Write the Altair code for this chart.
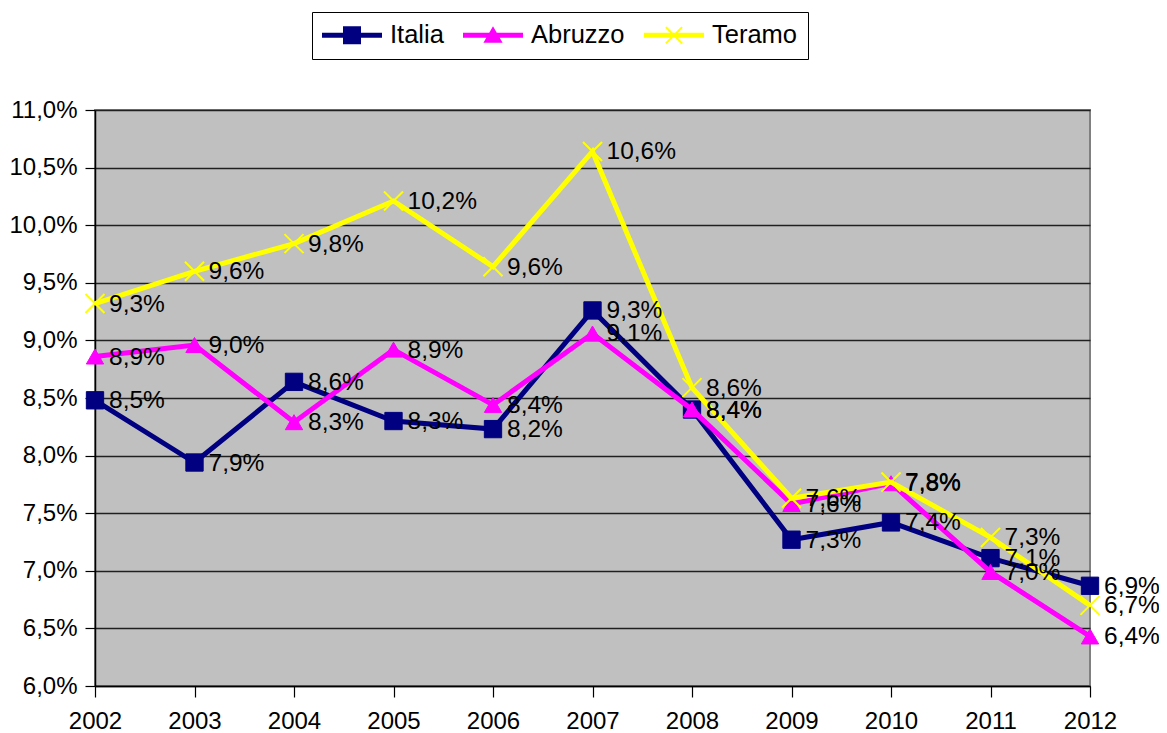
import altair as alt
import pandas as pd

years = [2002, 2003, 2004, 2005, 2006, 2007, 2008, 2009, 2010, 2011, 2012]
italia = [8.48, 7.94, 8.64, 8.30, 8.23, 9.26, 8.40, 7.27, 7.42, 7.11, 6.87]
abruzzo = [8.86, 8.96, 8.29, 8.92, 8.44, 9.06, 8.40, 7.58, 7.76, 6.99, 6.43]
teramo = [9.32, 9.60, 9.84, 10.21, 9.64, 10.64, 8.59, 7.63, 7.77, 7.29, 6.70]

series_names = ["Italia", "Abruzzo", "Teramo"]
series_colors = ["#000080", "#FF00FF", "#FFFF00"]
y_ticks = [6.0, 6.5, 7.0, 7.5, 8.0, 8.5, 9.0, 9.5, 10.0, 10.5, 11.0]

marker_shapes = ["square", "triangle-up", "M-1.1,-1.1L1.1,1.1M-1.1,1.1L1.1,-1.1"]
legend_shapes = [
    "M-1,-0.083H1V0.083H-1Z M-0.3,-0.3H0.3V0.3H-0.3Z",
    "M-1,-0.083H1V0.083H-1Z M0,-0.3L0.32,0.25L-0.32,0.25Z",
    "M-1,-0.083H1V0.083H-1Z "
    "M-0.246,-0.294L0.294,0.246L0.246,0.294L-0.294,-0.246Z "
    "M-0.294,0.246L0.246,-0.294L0.294,-0.246L-0.246,0.294Z",
]

rows = []
for name, vals in zip(series_names, [italia, abruzzo, teramo]):
    for yr, v in zip(years, vals):
        rows.append({"anno": yr, "serie": name, "valore": v})
df = pd.DataFrame(rows)

FONT = "Liberation Sans"

x_enc = alt.X(
    "anno:Q",
    scale=alt.Scale(domain=[2002, 2012], nice=False, zero=False),
    axis=alt.Axis(
        values=years, format="d", title=None, grid=False,
        labelFont=FONT, labelFontSize=24, labelColor="#000",
        tickColor="#000", tickSize=11, tickWidth=1.2,
        domainColor="#000", domainWidth=1.5, labelPadding=12,
        labelFlush=False, labelOverlap=False,
    ),
)
y_enc = alt.Y(
    "valore:Q",
    scale=alt.Scale(domain=[6, 11], nice=False, zero=False),
    axis=alt.Axis(
        values=y_ticks, title=None, grid=True, gridColor="#202020",
        gridWidth=1.3, labelFont=FONT, labelFontSize=24, labelColor="#000",
        labelExpr="replace(format(datum.value, '.1f'), '.', ',') + '%'",
        tickColor="#000", tickSize=10, tickWidth=1.2,
        domainColor="#000", domainWidth=1.5, labelPadding=8,
        labelFlush=False, labelOverlap=False,
    ),
)

base = alt.Chart(df)
layers = []
for name, col, shp in zip(series_names, series_colors, marker_shapes):
    sub = base.transform_filter(alt.datum.serie == name)
    layers.append(
        sub.mark_line(strokeWidth=5, color=col).encode(x=x_enc, y=y_enc)
    )
    layers.append(
        sub.mark_point(
            shape=shp, filled=True, fill=col, stroke=col,
            strokeWidth=2 if name == "Teramo" else 1,
            size=300, opacity=1,
        ).encode(x=x_enc, y=y_enc)
    )

labels = base.transform_calculate(
    lab="replace(format(datum.valore, '.1f'), '.', ',') + '%'"
).mark_text(
    align="left", baseline="middle", dx=14, dy=1,
    font=FONT, fontSize=24.5, color="#000",
).encode(x=x_enc, y=y_enc, text="lab:N")
layers.append(labels)

legend_def = alt.Legend(
    title=None, orient="none", legendX=217, legendY=-98,
    direction="horizontal", columns=3, symbolSize=3600,
    symbolStrokeWidth=0, symbolOpacity=1, clipHeight=26,
    labelFont=FONT, labelFontSize=25.5, labelColor="#000",
    labelOffset=8, columnPadding=19, padding=10,
    fillColor="#FFFFFF", strokeColor="#000000",
)
legend_layer = base.transform_filter("false").mark_point(filled=True).encode(
    x=x_enc, y=y_enc,
    color=alt.Color("serie:N", scale=alt.Scale(domain=series_names, range=series_colors), legend=legend_def),
    shape=alt.Shape("serie:N", scale=alt.Scale(domain=series_names, range=legend_shapes), legend=legend_def),
)
layers.append(legend_layer)

chart = alt.layer(*layers).properties(
    width=995, height=576,
    autosize=alt.AutoSizeParams(type="none"),
    padding={"left": 87, "top": 102, "right": 69, "bottom": 47},
    background="#FFFFFF",
).configure_view(
    fill="#C0C0C0", stroke="#808080", strokeWidth=2,
)

chart.save("out.html", embed_options={"renderer": "svg", "actions": False})
